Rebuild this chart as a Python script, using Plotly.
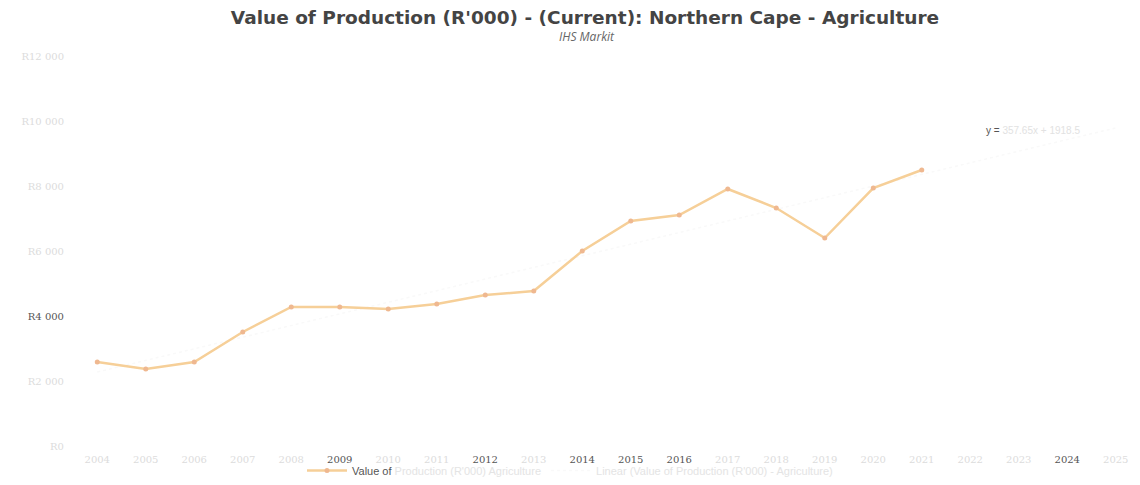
import numpy as np
import plotly.graph_objects as go

years = [str(y) for y in range(2004, 2026)]
values = [2585, 2369, 2585, 3508, 4277, 4277, 4215, 4369, 4646, 4769,
          6000, 6923, 7108, 7908, 7323, 6400, 7938, 8492]
y_ticks = [0, 2000, 4000, 6000, 8000, 10000, 12000]
y_tick_labels = ["R0", "R2 000", "R4 000", "R6 000", "R8 000", "R10 000", "R12 000"]
dark_years = ["2009", "2012", "2014", "2015", "2016", "2024"]
dark_y = ["R4 000"]

FAINT = "#dcdcdc"
DARK = "#555555"

# linear trendline fitted on the data (spreadsheet-style linear trendline)
xi = np.arange(1, len(values) + 1)
slope, intercept = np.polyfit(xi, values, 1)
trend_y = [slope * (i + 1) + intercept for i in range(len(years))]

fig = go.Figure()
fig.add_trace(go.Scatter(
    x=years, y=trend_y, mode="lines",
    line=dict(color="#f9f9f9", width=1.5, dash="dot"),
    name="<span style='color:#e4e4e4'>Linear (Value of Production (R'000) - Agriculture)</span>",
    hoverinfo="skip",
))
fig.add_trace(go.Scatter(
    x=years[:len(values)], y=values, mode="lines+markers",
    line=dict(color="#f6cf98", width=2.5),
    marker=dict(color="#efb890", size=5, symbol="circle"),
    name="Value of <span style='color:#e4e4e4'>Production (R'000) Agriculture</span>",
))

tick_text_x = [f"<span style='color:{DARK if y in dark_years else FAINT}'>{y}</span>" for y in years]
tick_text_y = [f"<span style='color:{DARK if t in dark_y else FAINT}'>{t}</span>" for t in y_tick_labels]

PLOT_TOP, PLOT_H = 56, 390

fig.update_layout(
    width=1140, height=485,
    paper_bgcolor="white", plot_bgcolor="white",
    margin=dict(l=73, r=0, t=PLOT_TOP, b=39, autoexpand=False),
    font=dict(family="Open Sans", size=11, color=DARK),
    title=dict(
        text="<b>Value of Production (R'000) - (Current): Northern Cape - Agriculture</b>",
        x=585 / 1140, xanchor="center", y=1 - 18 / 485, yanchor="middle", yref="container",
        font=dict(family="DejaVu Sans", size=18.5, color="#444"),
    ),
    xaxis=dict(
        type="category", categoryorder="array", categoryarray=years,
        tickmode="array", tickvals=years, ticktext=tick_text_x,
        range=[-0.5, 21.5], showgrid=False, zeroline=False, showline=False,
        ticks="", tickfont=dict(size=10, family="DejaVu Serif"), automargin=False,
        ticklabelstandoff=6,
    ),
    yaxis=dict(
        range=[0, 12000], tickmode="array", tickvals=y_ticks, ticktext=tick_text_y,
        showgrid=False, zeroline=False, showline=False, ticks="",
        tickfont=dict(size=10, family="DejaVu Serif"), ticklabelstandoff=8,
        automargin=False,
    ),
    legend=dict(
        orientation="h", x=0.5, xanchor="center", xref="container",
        y=-8 / 485, yanchor="bottom", yref="container",
        font=dict(size=11, family="Liberation Sans", color=DARK),
        traceorder="reversed", itemwidth=40, bgcolor="rgba(0,0,0,0)",
    ),
    annotations=[
        dict(
            x=1.0, xref="paper", xanchor="right", xshift=-58,
            y=9720, yref="y",
            text=f"y = <span style='color:#e2e2e2'>{slope:.2f}x + {intercept:.1f}</span>",
            showarrow=False, font=dict(size=10, family="Liberation Sans", color=DARK),
        ),
        dict(
            x=(587 - 73) / 1067, xref="paper", xanchor="center",
            y=1 + (PLOT_TOP - 37) / PLOT_H, yref="paper", yanchor="middle",
            text="<i>IHS Markit</i>", showarrow=False,
            font=dict(size=12, family="Open Sans", color="#666"),
        ),
    ],
    showlegend=True,
)

fig.write_html("out.html", config={"displayModeBar": False},
               post_script="document.body.style.margin='0';")
